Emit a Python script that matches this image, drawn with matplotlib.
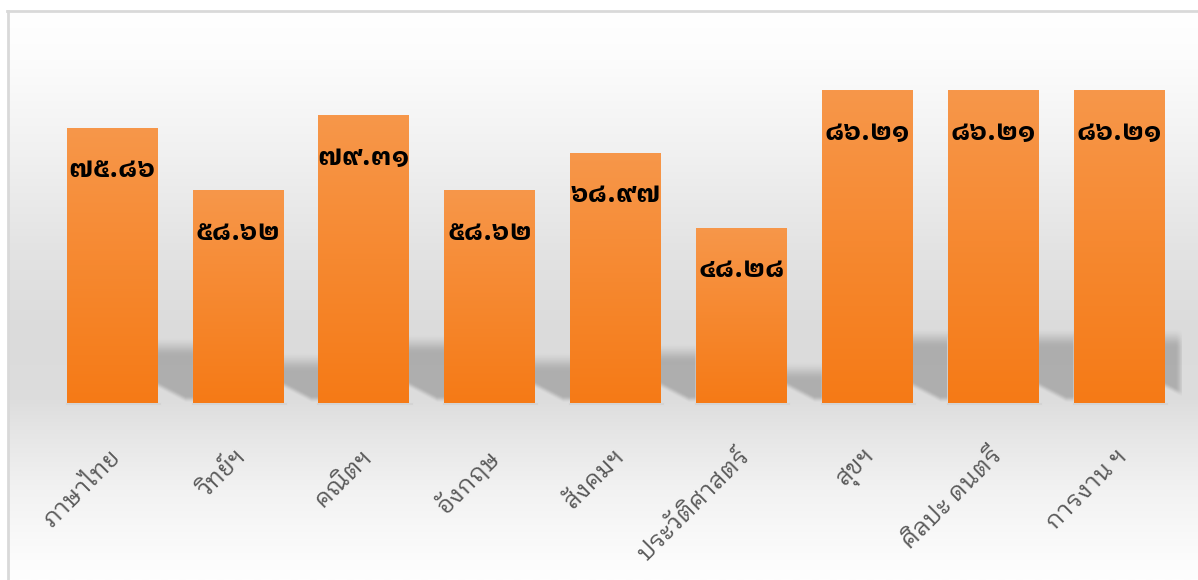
import glob
import numpy as np
import matplotlib
matplotlib.use("Agg")
import matplotlib.pyplot as plt
from matplotlib import font_manager as fm
from matplotlib.transforms import ScaledTranslation
from matplotlib.lines import Line2D

# ---------------- data ----------------
categories = ["ภาษาไทย", "วิทย์ฯ", "คณิตฯ", "อังกฤษ", "สังคมฯ",
              "ประวัติศาสตร์", "สุขฯ", "ศิลปะ ดนตรี", "การงาน ฯ"]
values = [75.86, 58.62, 79.31, 58.62, 68.97, 48.28, 86.21, 86.21, 86.21]

THAI_DIGITS = str.maketrans("0123456789", "๐๑๒๓๔๕๖๗๘๙")


def thai_num(v):
    return f"{v:.2f}".translate(THAI_DIGITS)


# ---------------- fonts ----------------
def pick(names):
    for nme in names:
        g = glob.glob("/usr/share/fonts/**/" + nme, recursive=True)
        if g:
            return g[0]
    return None


reg_path = pick(["NotoSansThaiLooped-Regular.ttf", "IBMPlexSansThaiLooped-Regular.ttf",
                 "Sarabun-Regular.ttf", "NotoSansThai-Regular.ttf"])
bold_path = pick(["NotoSansThaiLooped-Bold.ttf", "IBMPlexSansThaiLooped-Bold.ttf",
                  "Sarabun-Bold.ttf", "NotoSansThai-Bold.ttf"])
fp_label = fm.FontProperties(fname=reg_path, size=17.5) if reg_path else fm.FontProperties(size=17.5)
fp_value = fm.FontProperties(fname=bold_path, size=19.5) if bold_path else fm.FontProperties(size=19.5, weight="bold")

# ---------------- figure ----------------
W, H = 1198, 580
fig = plt.figure(figsize=(W / 100, H / 100), dpi=100)
fig.patch.set_facecolor("white")

# background gradient inside the frame
bg = fig.add_axes([0, 0, 1, 1], zorder=0)
bg.set_xlim(0, W)
bg.set_ylim(H, 0)
bg.axis("off")
stops_y = [12, 60, 150, 250, 330, 400, 430, 490, 560, 580]
stops_v = [255, 252, 241, 227, 219, 221, 229, 242, 252, 254]
yy = np.arange(12, H + 1)
grad = np.interp(yy, stops_y, stops_v) / 255.0
img = np.repeat(grad[:, None], 2, axis=1)
bg.imshow(np.dstack([img, img, img]), extent=[8, W, H, 12], aspect="auto",
          interpolation="bilinear", zorder=0)
bg.add_line(Line2D([8, 8], [11, H], color="#d9d9d9", lw=2, zorder=1))
bg.add_line(Line2D([7, W], [11, 11], color="#d9d9d9", lw=2, zorder=1))

# main axes
scale = 313 / 86.21          # px per unit
ax = fig.add_axes([49 / W, (H - 403) / H, (1182 - 49) / W, (403 - 30) / H], zorder=2)
ax.set_facecolor("none")
n = len(values)
x = np.arange(n)
width = 0.72
for s in ax.spines.values():
    s.set_visible(False)
ax.tick_params(axis="y", left=False, labelleft=False)
ax.tick_params(axis="x", length=0, pad=30)

# ---- soft shadow behind bars ----
gx = np.linspace(-0.5, n - 0.5, 1400)
gy = np.linspace(0, 28, 320)
GX, GY = np.meshgrid(gx, gy)
alpha = np.zeros_like(GX)
for i, v in enumerate(values):
    xr = x[i] + width / 2
    xl = x[i] - width / 2
    nxt = x[i + 1] - width / 2 if i + 1 < n else xr + 0.17
    d = GX - xr
    top = 0.24 * v
    bottom = np.clip(4.0 - d * 18.0, 0, None)
    m_x = (GX >= xl) & (GX <= nxt)
    t = np.clip((top - GY) / 5.5, 0, 1)
    t = t * t * (3 - 2 * t)
    b = np.clip((GY - bottom) / 2.0, 0, 1)
    b = b * b * (3 - 2 * b)
    hfade = np.ones_like(GX)
    if i + 1 == n:
        hh = np.clip((nxt - GX) / 0.08, 0, 1)
        hfade = hh * hh * (3 - 2 * hh)
    a = np.where(m_x, 0.21 * t * b * hfade, 0)
    alpha = np.maximum(alpha, a)
shadow = np.zeros(GX.shape + (4,))
shadow[..., 3] = alpha
ax.imshow(shadow, extent=[gx[0], gx[-1], gy[0], gy[-1]], origin="lower",
          aspect="auto", interpolation="bilinear", zorder=1)

# faint floor line under bars
for i in range(n):
    ax.add_line(Line2D([x[i] - width / 2, x[i] + width / 2 + 0.02], [-0.35, -0.35],
                       color="#d4d4d4", lw=1.5, zorder=1.5, clip_on=False))

# ---- bars with vertical gradient ----
c_top = np.array([247, 151, 74]) / 255.0
c_bot = np.array([245, 122, 22]) / 255.0
bars = ax.bar(x, values, width=width, color="#f68a32", edgecolor="none", zorder=2)
ramp = np.linspace(0, 1, 256)[:, None]
gimg = c_bot[None, None, :] * (1 - ramp[..., None]) + c_top[None, None, :] * ramp[..., None]
gimg = np.repeat(gimg, 2, axis=1)
for bar in bars:
    bx, bw, bh = bar.get_x(), bar.get_width(), bar.get_height()
    im = ax.imshow(gimg, extent=[bx, bx + bw, 0, bh], origin="lower", aspect="auto",
                   interpolation="bilinear", zorder=3)
    im.set_clip_path(bar)

ax.set_xlim(-0.5, n - 0.5)
ax.set_ylim(0, (403 - 30) / scale)

# value labels
for xi, v in zip(x, values):
    ax.text(xi, v - 11.6, thai_num(v), ha="center", va="center",
            fontproperties=fp_value, color="black", zorder=5)

# category labels
ax.set_xticks(x)
ax.set_xticklabels(categories, rotation=45, ha="right", rotation_mode="anchor",
                   fontproperties=fp_label, color="#595959")
off = ScaledTranslation(-3 / 100, 0, fig.dpi_scale_trans)
for lab in ax.get_xticklabels():
    lab.set_transform(lab.get_transform() + off)

fig.savefig("out.png", dpi=100, facecolor="white")
